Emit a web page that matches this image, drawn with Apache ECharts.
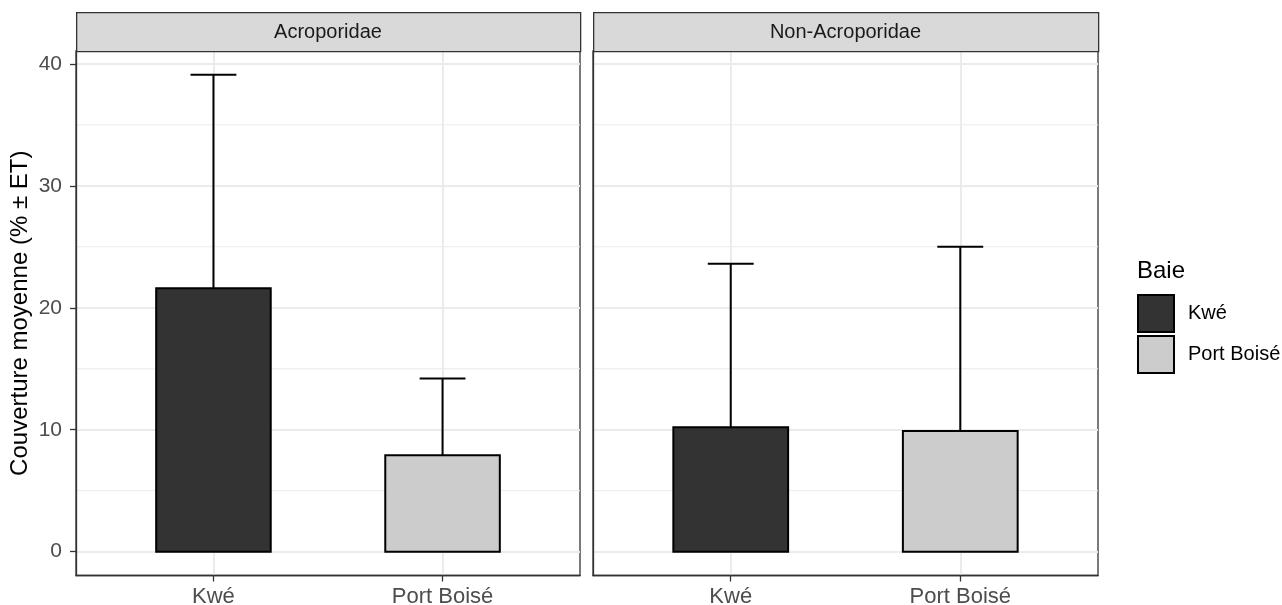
<!DOCTYPE html>
<html>
<head>
<meta charset="utf-8">
<script src="https://cdn.jsdelivr.net/npm/echarts@6/dist/echarts.min.js"></script>
<style>
html,body{margin:0;padding:0;background:#fff;}
#chart{width:1282px;height:605px;}
</style>
</head>
<body>
<div id="chart"></div>
<script>
// ---- data ----
const panels = ['Acroporidae', 'Non-Acroporidae'];
const categories = ['Kwé', 'Port Boisé'];
const baieColors = ['#333333', '#CCCCCC'];
// mean cover per panel, indexed by category
const meanAcro = [21.6, 7.9];
const meanNonAcro = [10.2, 9.9];
// upper end of error bar (mean + ET)
const upperAcro = [39.1, 14.2];
const upperNonAcro = [23.6, 25.0];
const yMajorTicks = [0, 10, 20, 30, 40];
const yMinorTicks = [5, 15, 25, 35];
const yTitle = 'Couverture moyenne (% ± ET)';
const legendTitle = 'Baie';

const means = [meanAcro, meanNonAcro];
const uppers = [upperAcro, upperNonAcro];

const FONT = "'Liberation Sans', Arial, sans-serif";
const maxUpper = Math.max(...upperAcro, ...upperNonAcro);
const yMin = -0.05 * maxUpper, yMax = maxUpper * 1.05;

const gridDefs = [
  {left: 76, top: 51, width: 504, height: 524.5},
  {left: 593, top: 51, width: 505, height: 524.5}
];

const chart = echarts.init(document.getElementById('chart'), null, {renderer: 'canvas'});

const grids = gridDefs.map(g => Object.assign({show: true, borderColor: '#333333', borderWidth: 1.3,
  backgroundColor: 'transparent', containLabel: false, outerBoundsMode: 'none'}, g));

const xAxes = gridDefs.map((g, i) => ({
  type: 'value', gridIndex: i, min: 0.4, max: 2.6, position: 'bottom',
  axisLine: {show: true, onZero: false, lineStyle: {color: '#333333', width: 1.3}},
  axisTick: {show: true, length: 6, lineStyle: {color: '#333333', width: 1.3}, customValues: [1, 2]},
  axisLabel: {show: true, customValues: [1, 2], margin: 10, color: '#4D4D4D', fontSize: 22, fontFamily: FONT,
    formatter: v => categories[Math.round(v) - 1] || ''},
  splitLine: {show: true, lineStyle: {color: '#EBEBEB', width: 2}}
}));

const yAxes = gridDefs.map((g, i) => ({
  type: 'value', gridIndex: i, min: yMin, max: yMax, position: 'left',
  name: i === 0 ? yTitle : '', nameLocation: 'middle', nameGap: 44,
  nameTextStyle: {color: '#000000', fontSize: 24, fontFamily: FONT},
  axisLine: {show: true, onZero: false, lineStyle: {color: '#333333', width: 1.3}},
  axisTick: {show: i === 0, length: 6, lineStyle: {color: '#333333', width: 1.3}, customValues: yMajorTicks},
  axisLabel: {show: i === 0, customValues: yMajorTicks, margin: 14, color: '#4D4D4D', fontSize: 21, fontFamily: FONT},
  splitLine: {show: true, lineStyle: {color: '#EBEBEB', width: 2}}
}));

const series = [];
// minor horizontal grid lines
gridDefs.forEach((g, p) => {
  series.push({
    type: 'custom', xAxisIndex: p, yAxisIndex: p, silent: true, z: 0,
    data: yMinorTicks.map(v => [v]),
    renderItem: (params, api) => {
      const v = api.value(0);
      const a = api.coord([0.4, v]), b = api.coord([2.6, v]);
      return {type: 'line', shape: {x1: a[0], y1: a[1], x2: b[0], y2: b[1]}, style: {stroke: '#EBEBEB', lineWidth: 1}};
    }
  });
});
// bars + error bars
gridDefs.forEach((g, p) => {
  categories.forEach((c, ci) => {
    series.push({
      type: 'custom', name: c, xAxisIndex: p, yAxisIndex: p, z: 5,
      itemStyle: {color: baieColors[ci], borderColor: '#000000', borderWidth: 1.5},
      data: [[ci + 1, means[p][ci], uppers[p][ci]]],
      renderItem: (params, api) => {
        const x = api.value(0), m = api.value(1), u = api.value(2);
        const b0 = api.coord([x - 0.25, 0]), b1 = api.coord([x + 0.25, m]);
        const base = api.coord([x, m]), top = api.coord([x, u]);
        const wl = api.coord([x - 0.1, u]), wr = api.coord([x + 0.1, u]);
        const ls = {stroke: '#000000', lineWidth: 2};
        return {type: 'group', children: [
          {type: 'line', shape: {x1: base[0], y1: base[1], x2: top[0], y2: top[1]}, style: ls},
          {type: 'line', shape: {x1: wl[0], y1: wl[1], x2: wr[0], y2: wr[1]}, style: ls},
          {type: 'rect', shape: {x: b0[0], y: b1[1], width: b1[0] - b0[0], height: b0[1] - b1[1]},
            style: {fill: baieColors[ci], stroke: '#000000', lineWidth: 2}}
        ]};
      }
    });
  });
});

// strips
const graphics = [];
gridDefs.forEach((g, p) => {
  graphics.push({type: 'rect', left: g.left, top: 12, shape: {x: 0, y: 0, width: g.width, height: 39},
    style: {fill: '#D9D9D9', stroke: '#333333', lineWidth: 1.3}, z: 10});
  graphics.push({type: 'text', x: g.left + g.width / 2, y: 32,
    style: {text: panels[p], fill: '#1A1A1A', font: '20px ' + FONT, align: 'center', verticalAlign: 'middle'}, z: 11});
});
graphics.push({type: 'text', x: 1137, y: 271,
  style: {text: legendTitle, fill: '#000000', font: '24px ' + FONT, align: 'left', verticalAlign: 'middle'}});

chart.setOption({
  animation: false,
  backgroundColor: '#ffffff',
  grid: grids,
  xAxis: xAxes,
  yAxis: yAxes,
  legend: {
    orient: 'vertical', left: 1137, top: 294, padding: 0, itemWidth: 36, itemHeight: 37, itemGap: 2,
    icon: 'rect', data: categories, selectedMode: false,
    textStyle: {color: '#000000', fontSize: 20, fontFamily: FONT, padding: [0, 0, 0, 9]}
  },
  series: series,
  graphic: graphics
});
</script>
</body>
</html>
